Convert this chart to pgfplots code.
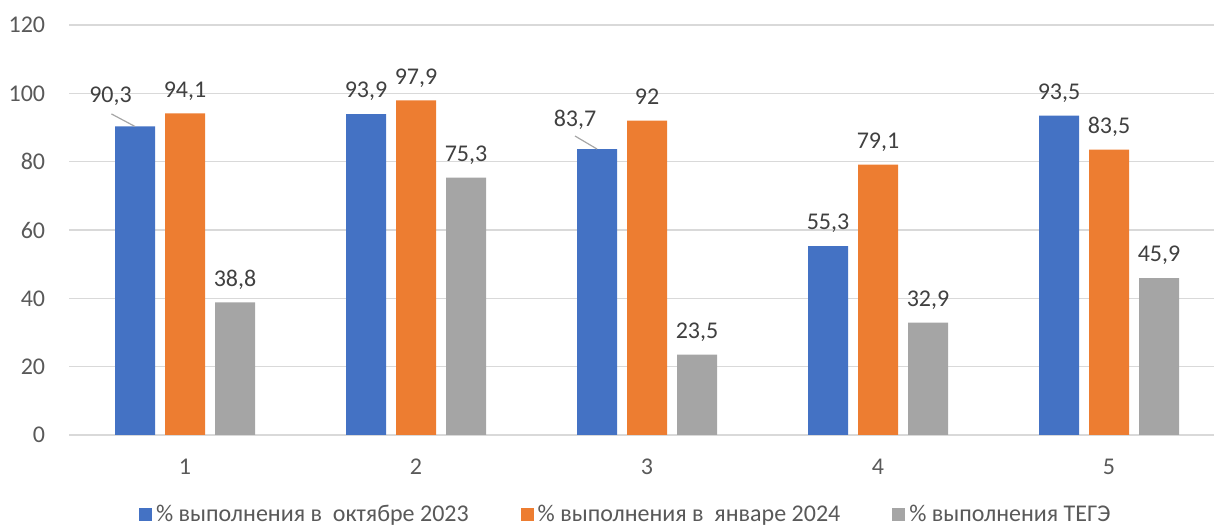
\documentclass[border=0pt]{standalone}
\usepackage{fontspec}
\setmainfont{Carlito}
\usepackage{pgfplots}
\pgfplotsset{compat=1.18}
\definecolor{cblue}{HTML}{4472C4}
\definecolor{corange}{HTML}{ED7D31}
\definecolor{cgray}{HTML}{A5A5A5}
\definecolor{gridc}{HTML}{D9D9D9}
\definecolor{tickc}{HTML}{595959}
\definecolor{labc}{HTML}{404040}
\definecolor{leadc}{HTML}{A6A6A6}
\newcommand{\lf}{\fontsize{12}{14}\selectfont}
\begin{document}
\begin{tikzpicture}
\useasboundingbox (-34.75pt,-46.5pt) rectangle (572.25pt,217.5pt);
\begin{axis}[
  at={(0,0)}, anchor=south west,
  scale only axis, width=572.25pt, height=205pt,
  xmin=0.5, xmax=5.4545, ymin=0, ymax=120,
  ybar=5pt, bar width=20pt,
  ytick={0,20,...,120}, xtick={1,2,3,4,5},
  ymajorgrids, major grid style={gridc, line width=0.75pt},
  axis line style={draw=none}, major tick length=0pt,
  tick label style={font=\lf, text=tickc},
  yticklabel style={anchor=east, inner sep=0pt, xshift=-12pt},
  xticklabel style={anchor=base, inner sep=0pt, yshift=-19.8pt},
  /pgf/number format/assume math mode=true,
  point meta=explicit symbolic,
  nodes near coords,
  every node near coord/.append style={font=\lf, text=labc, anchor=base, inner sep=0pt, yshift=8.2pt},
  legend columns=3,
  legend style={at={(0.487,-0.194)}, anchor=center, draw=none, font=\lf, text=tickc,
    /tikz/every even column/.append style={column sep=24pt},
    cells={anchor=west}},
  legend image code/.code={\fill[#1] (0pt,-3.25pt) rectangle (6.5pt,3.25pt);},
]
\addplot[fill=cblue, draw=none] table[meta=l] {
x y l
1 90.3 {}
2 93.9 93,9
3 83.7 {}
4 55.3 55,3
5 93.5 93,5
};
\addplot[fill=corange, draw=none] table[meta=l] {
x y l
1 94.1 94,1
2 97.9 97,9
3 92 92
4 79.1 79,1
5 83.5 83,5
};
\addplot[fill=cgray, draw=none] table[meta=l] {
x y l
1 38.8 38,8
2 75.3 75,3
3 23.5 23,5
4 32.9 32,9
5 45.9 45,9
};
\legend{\% выполнения в\ \ октябре 2023, \% выполнения в\ \ январе 2024, \% выполнения ТЕГЭ}
\draw[leadc, line width=0.6pt] ([xshift=-25pt]axis cs:1,90.3) -- ++(-11.75pt,6.25pt);
\node[font=\lf, text=labc, anchor=base, inner sep=0pt] at ([xshift=-37.25pt, yshift=12pt]axis cs:1,90.3) {90,3};
\draw[leadc, line width=0.6pt] ([xshift=-25pt]axis cs:3,83.7) -- ++(-11pt,6.5pt);
\node[font=\lf, text=labc, anchor=base, inner sep=0pt] at ([xshift=-36pt, yshift=11.5pt]axis cs:3,83.7) {83,7};
\end{axis}
\end{tikzpicture}
\end{document}
